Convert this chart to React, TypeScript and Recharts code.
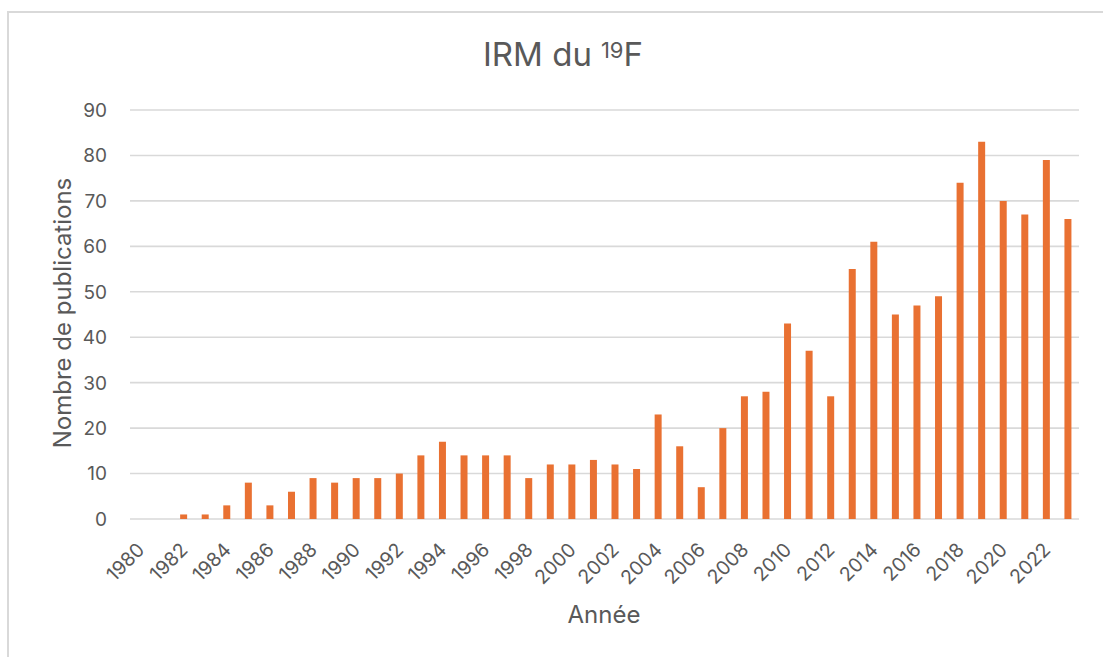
import { BarChart, Bar, XAxis, YAxis, CartesianGrid } from "recharts";

const YEARS = [
  "1980", "1981", "1982", "1983", "1984", "1985", "1986", "1987", "1988", "1989",
  "1990", "1991", "1992", "1993", "1994", "1995", "1996", "1997", "1998", "1999",
  "2000", "2001", "2002", "2003", "2004", "2005", "2006", "2007", "2008", "2009",
  "2010", "2011", "2012", "2013", "2014", "2015", "2016", "2017", "2018", "2019",
  "2020", "2021", "2022", "2023",
];

const PUBLICATIONS = [
  0, 0, 1, 1, 3, 8, 3, 6, 9, 8,
  9, 9, 10, 14, 17, 14, 14, 14, 9, 12,
  12, 13, 12, 11, 23, 16, 7, 20, 27, 28,
  43, 37, 27, 55, 61, 45, 47, 49, 74, 83,
  70, 67, 79, 66,
];

const Y_TICKS = [0, 10, 20, 30, 40, 50, 60, 70, 80, 90];

const TEXT = "#595959";
const GRID = "#d9d9d9";
const ORANGE = "#e97132";
const FONT = "Inter, Roboto, sans-serif";

const data = YEARS.map((year, i) => ({ year, count: PUBLICATIONS[i] }));

const YearTick = ({ x, y, payload }: any) => (
  <g transform={`translate(${x + 5},${y + 32})`}>
    <text transform="rotate(-45)" textAnchor="end" fill={TEXT} fontSize={19.5} fontFamily={FONT}>
      {payload.value}
    </text>
  </g>
);

const CountTick = ({ x, y, payload }: any) => (
  <text x={x - 23} y={y} dy="0.36em" textAnchor="end" fill={TEXT} fontSize={19} fontFamily={FONT}>
    {payload.value}
  </text>
);

export default function App() {
  return (
    <div style={{ position: "absolute", left: 0, top: 0, width: 1103, height: 657, overflow: "hidden", background: "#fff" }}>
      {/* chart frame, only top/left edges are in view */}
      <div
        style={{
          position: "absolute",
          left: 7,
          top: 11,
          width: 1200,
          height: 800,
          borderTop: `2px solid ${GRID}`,
          borderLeft: `2px solid ${GRID}`,
        }}
      />
      <div style={{ position: "absolute", left: 0, top: 0 }}>
        <BarChart width={1103} height={657} data={data} margin={{ top: 110, right: 24, left: 70, bottom: 58 }}>
          <CartesianGrid vertical={false} stroke={GRID} strokeWidth={1.6} />
          <XAxis
            dataKey="year"
            interval={1}
            axisLine={false}
            tickLine={false}
            tickSize={0}
            tickMargin={0}
            height={80}
            tick={<YearTick />}
          />
          <YAxis
            domain={[0, 90]}
            ticks={Y_TICKS}
            axisLine={false}
            tickLine={false}
            tickSize={0}
            tickMargin={0}
            width={60}
            tick={<CountTick />}
          />
          <Bar dataKey="count" fill={ORANGE} barSize={7} isAnimationActive={false} />
        </BarChart>
      </div>
      <svg width={1103} height={657} style={{ position: "absolute", left: 0, top: 0, pointerEvents: "none" }}>
        <text x={563} y={66} textAnchor="middle" fill={TEXT} fontSize={33} fontFamily={FONT}>
          IRM du
          <tspan dx={9} dy={-8} fontSize={22}>19</tspan>
          <tspan dy={8}>F</tspan>
        </text>
        <text transform="translate(71,313) rotate(-90)" textAnchor="middle" fill={TEXT} fontSize={24} fontFamily={FONT}>
          Nombre de publications
        </text>
        <text x={604} y={623} textAnchor="middle" fill={TEXT} fontSize={24} fontFamily={FONT}>
          Année
        </text>
      </svg>
    </div>
  );
}
